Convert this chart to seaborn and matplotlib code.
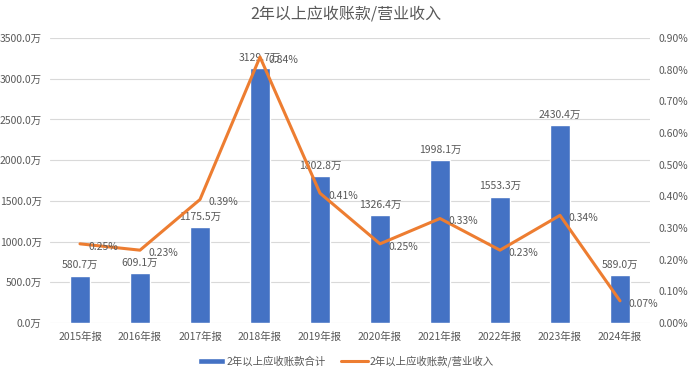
import matplotlib
matplotlib.use("Agg")
import matplotlib.pyplot as plt
import matplotlib.ticker as mticker
import seaborn as sns
import pandas as pd

years = ["2015年报", "2016年报", "2017年报", "2018年报", "2019年报",
         "2020年报", "2021年报", "2022年报", "2023年报", "2024年报"]
receivables = [580.7, 609.1, 1175.5, 3129.7, 1802.8, 1326.4, 1998.1, 1553.3, 2430.4, 589.0]
ratio_pct = [0.25, 0.23, 0.39, 0.84, 0.41, 0.25, 0.33, 0.23, 0.34, 0.07]

BAR_COLOR = "#4472C4"
LINE_COLOR = "#ED7D31"
TEXT_COLOR = "#595959"

sns.set_style("white")
plt.rcParams["font.family"] = ["Noto Sans CJK SC", "DejaVu Sans"]

df = pd.DataFrame({"year": years, "value": receivables, "ratio": ratio_pct})

fig = plt.figure(figsize=(6.92, 3.75), dpi=100)
ax = fig.add_axes([50 / 692, 52 / 375, 600 / 692, 285 / 375])

sns.barplot(data=df, x="year", y="value", color=BAR_COLOR, width=0.32,
            saturation=1, ax=ax, label="2年以上应收账款合计")
if ax.get_legend() is not None:
    ax.get_legend().remove()
ax.set_ylim(0, 3500)
ax.yaxis.set_major_locator(mticker.MultipleLocator(500))
ax.yaxis.set_major_formatter(mticker.FuncFormatter(lambda v, p: f"{v:.1f}万"))
ax.grid(axis="y", color="#D9D9D9", linewidth=0.8)
ax.set_axisbelow(True)
ax.set_xlabel("")
ax.set_ylabel("")
ax.set_xlim(-0.5, len(years) - 0.5)
for s in ax.spines.values():
    s.set_visible(False)
ax.tick_params(axis="both", length=0, labelsize=7.5, colors=TEXT_COLOR, pad=6)

for i, v in enumerate(receivables):
    ax.annotate(f"{v:.1f}万", (i, v), xytext=(0, 4), textcoords="offset points",
                ha="center", va="bottom", fontsize=7.5, color=TEXT_COLOR)

ax2 = ax.twinx()
sns.lineplot(x=list(range(len(years))), y=ratio_pct, ax=ax2, color=LINE_COLOR,
             linewidth=2.2, sort=False, label="2年以上应收账款/营业收入", legend=False)
ax2.set_ylim(0, 0.9)
ax2.yaxis.set_major_locator(mticker.MultipleLocator(0.1))
ax2.yaxis.set_major_formatter(mticker.FuncFormatter(lambda v, p: f"{v:.2f}%"))
for s in ax2.spines.values():
    s.set_visible(False)
ax2.tick_params(axis="y", length=0, labelsize=7.5, colors=TEXT_COLOR, pad=6)

for i, r in enumerate(ratio_pct):
    ax2.annotate(f"{r:.2f}%", (i, r), xytext=(6, -2), textcoords="offset points",
                 ha="left", va="center", fontsize=7.5, color=TEXT_COLOR)

fig.text(0.5, 0.962, "2年以上应收账款/营业收入", ha="center", va="center",
         fontsize=11.5, color=TEXT_COLOR)

h1, l1 = ax.get_legend_handles_labels()
h2, l2 = ax2.get_legend_handles_labels()
fig.legend(h1 + h2, l1 + l2, loc="center", bbox_to_anchor=(0.5, 0.037), ncol=2,
           frameon=False, fontsize=7.5, labelcolor=TEXT_COLOR, handlelength=2.6,
           handleheight=0.5, columnspacing=1.5, handletextpad=0.1)

fig.savefig("out.png", dpi=100)
